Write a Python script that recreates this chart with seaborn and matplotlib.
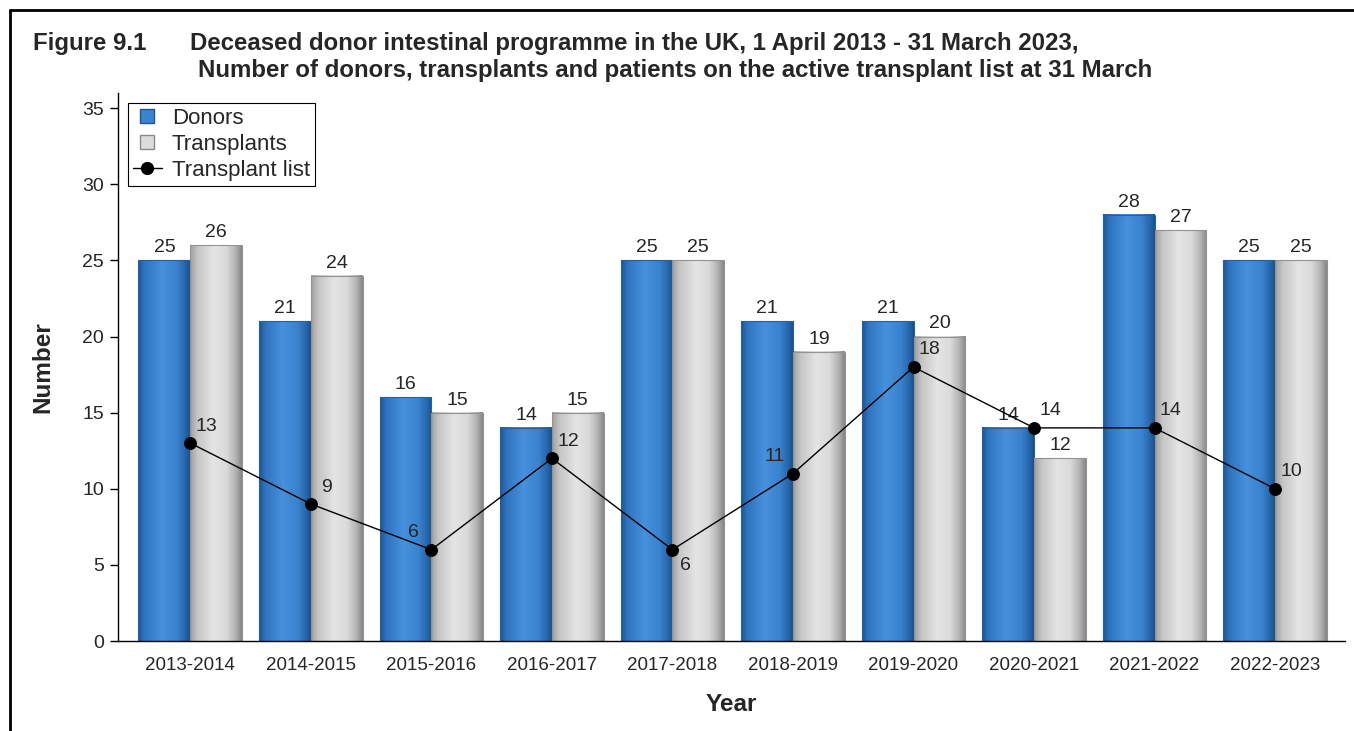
import numpy as np
import pandas as pd
import seaborn as sns
import matplotlib.pyplot as plt
from matplotlib.lines import Line2D
from matplotlib.colors import LinearSegmentedColormap

years = ["2013-2014", "2014-2015", "2015-2016", "2016-2017", "2017-2018",
         "2018-2019", "2019-2020", "2020-2021", "2021-2022", "2022-2023"]
donors = [25, 21, 16, 14, 25, 21, 21, 14, 28, 25]
transplants = [26, 24, 15, 15, 25, 19, 20, 12, 27, 25]
transplant_list = [13, 9, 6, 12, 6, 11, 18, 14, 14, 10]
# where each list label sits relative to its point
label_side = ["ur", "ur", "ul", "ur", "dr", "ul", "ur", "ur", "ur", "ur"]

sns.set_style("white")
plt.rcParams["font.family"] = ["Liberation Sans", "DejaVu Sans"]

df = pd.DataFrame({
    "Year": years * 2,
    "Series": ["Donors"] * len(years) + ["Transplants"] * len(years),
    "Number": donors + transplants,
})

fig = plt.figure(figsize=(13.54, 7.31), dpi=100)
ax = fig.add_axes([118 / 1354, 1 - 641 / 731, 1227 / 1354, 548 / 731])

sns.barplot(data=df, x="Year", y="Number", hue="Series",
            palette={"Donors": "#3a84d0", "Transplants": "#d8d8d8"},
            width=0.86, ax=ax, legend=False)

blue = LinearSegmentedColormap.from_list("blue", [
    (0, "#1d5590"), (0.12, "#2f74bf"), (0.45, "#4690dc"),
    (0.75, "#3a82ce"), (0.92, "#2564a8"), (1, "#1a4f88")])
grey = LinearSegmentedColormap.from_list("grey", [
    (0, "#a0a0a0"), (0.15, "#c6c6c6"), (0.45, "#e4e4e4"),
    (0.7, "#dadada"), (0.88, "#b2b2b2"), (1, "#858585")])
edges = ["#23609f", "#939393"]

grad = np.linspace(0, 1, 256).reshape(1, -1)
for cont, cmap, ec in zip(ax.containers, [blue, grey], edges):
    for bar in cont:
        x0, y0 = bar.get_xy()
        w, h = bar.get_width(), bar.get_height()
        ax.imshow(grad, cmap=cmap, extent=[x0, x0 + w, y0, y0 + h],
                  aspect="auto", zorder=2, interpolation="bilinear")
        bar.set_facecolor("none")
        bar.set_edgecolor(ec)
        bar.set_linewidth(0.8)
        bar.set_zorder(2.5)
    ax.bar_label(cont, padding=3, fontsize=14)

sns.pointplot(x=years, y=transplant_list, color="black", markers="o",
              linestyles="-", linewidth=1, markersize=8.5, ax=ax)
for ln in ax.lines:
    ln.set_zorder(5)

offsets = {"ur": (16, 17), "ul": (-18, 17), "dr": (13, -16)}
for i, (v, s) in enumerate(zip(transplant_list, label_side)):
    ax.annotate(str(v), (i, v), xytext=offsets[s], textcoords="offset pixels",
                ha="center", va="center", fontsize=14, zorder=6)

ax.set_ylim(0, 36)
ax.set_xlim(-0.6, 9.58)
ax.set_yticks(range(0, 36, 5))
ax.tick_params(axis="y", left=True, length=6, width=1, color="black",
               labelsize=14, pad=4)
ax.tick_params(axis="x", bottom=False, labelsize=13.5, pad=8)
for side in ["top", "right"]:
    ax.spines[side].set_visible(False)
for side in ["left", "bottom"]:
    ax.spines[side].set_color("black")
    ax.spines[side].set_linewidth(1)
    ax.spines[side].set_zorder(4)

ax.set_xlabel("Year", fontsize=17.5, fontweight="bold", labelpad=14)
ax.set_ylabel("Number", fontsize=17.5, fontweight="bold", labelpad=20)

handles = [
    Line2D([], [], ls="none", marker="s", markersize=10,
           markerfacecolor="#3a84d0", markeredgecolor="#1d5590"),
    Line2D([], [], ls="none", marker="s", markersize=10,
           markerfacecolor="#dcdcdc", markeredgecolor="#8a8a8a"),
    Line2D([], [], color="black", lw=1, marker="o", markersize=8.5),
]
leg = ax.legend(handles, ["Donors", "Transplants", "Transplant list"],
                loc="upper left", bbox_to_anchor=(10 / 1227, 538 / 548),
                fontsize=16, frameon=True, fancybox=False, framealpha=1,
                edgecolor="black", borderpad=0.22, labelspacing=0.22,
                handlelength=1.3, handletextpad=0.45, borderaxespad=0)
leg.get_frame().set_linewidth(0.8)
leg.set_zorder(10)

fig.text(33 / 1354, 1 - 50 / 731, "Figure 9.1", fontsize=17.3,
         fontweight="bold", va="baseline")
fig.text(190 / 1354, 1 - 50 / 731,
         "Deceased donor intestinal programme in the UK, 1 April 2013 - 31 March 2023,",
         fontsize=17.3, fontweight="bold", va="baseline")
fig.text(198 / 1354, 1 - 77 / 731,
         "Number of donors, transplants and patients on the active transplant list at 31 March",
         fontsize=17.3, fontweight="bold", va="baseline")

fig.add_artist(Line2D([10 / 1354, 1], [1 - 10 / 731] * 2, color="black",
                      lw=2, transform=fig.transFigure))
fig.add_artist(Line2D([10 / 1354] * 2, [0, 1 - 10 / 731], color="black",
                      lw=2, transform=fig.transFigure))

fig.savefig("out.png", dpi=100)
